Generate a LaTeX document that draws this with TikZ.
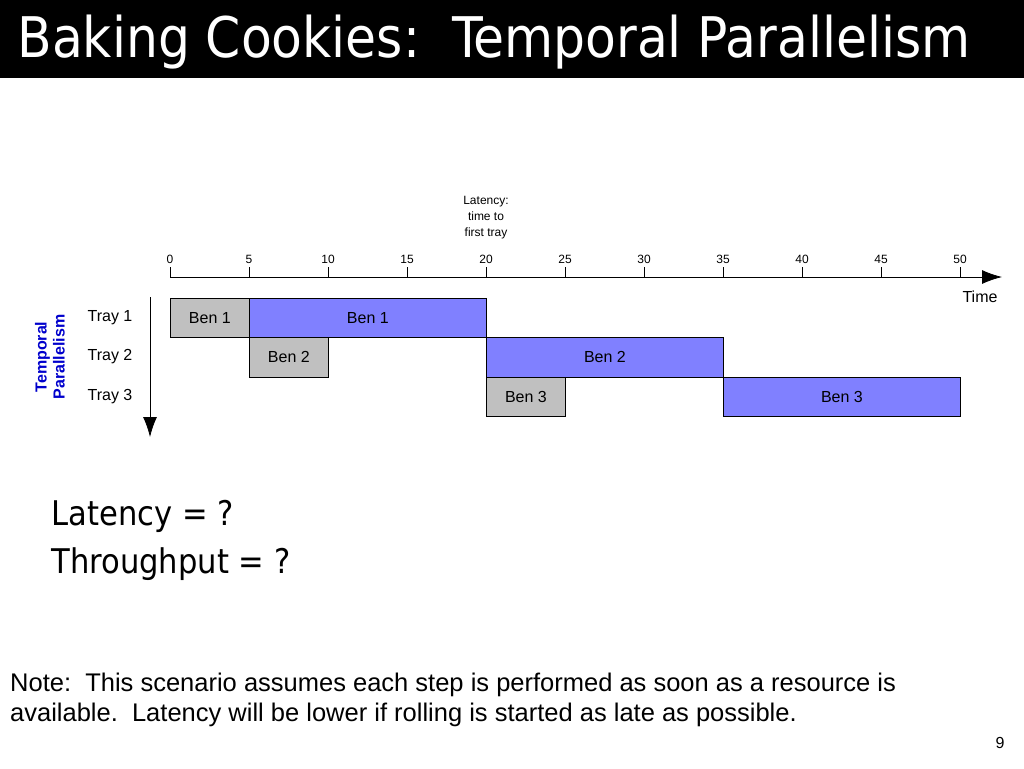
\documentclass[tikz,border=0pt]{standalone}
\usepackage{fontspec}
\setmainfont{Liberation Sans}
\newfontfamily\titlefont{DejaVu Sans Condensed}
\usetikzlibrary{positioning, arrows.meta}
\definecolor{rollgray}{HTML}{C0C0C0}
\definecolor{bakeblue}{HTML}{8080FF}
\tikzset{
  slot/.style = {draw, thick, inner sep = 0pt, minimum height = 39.5pt, anchor = north west, font = \fontsize{16}{18}\selectfont},
  roll/.style = {slot, fill = rollgray},
  bake/.style = {slot, fill = bakeblue},
  tick/.style = {font = \fontsize{12}{14}\selectfont, anchor = south}
}
\begin{document}
\begin{tikzpicture}[x = 1pt, y = -1pt]
	 \useasboundingbox (0, 0) rectangle (1024, 768);
	 \fill[black] (0, 0) rectangle (1024, 78);
	 \node[anchor = west, text = white, font = \titlefont\fontsize{56}{60}\selectfont] (title) at (14, 42) {Baking Cookies:\ \ Temporal Parallelism};

	 % time axis
	 \coordinate (t0) at (170, 277);
	 \coordinate (tend) at (1002, 277);
	 \draw[thick, -{Latex[length = 20pt, width = 14pt]}] (t0) -- (tend);
	 \foreach \t in {0, 5, ..., 50}
	 \draw[thick] (170 + 15.8 * \t, 277) -- (170 + 15.8 * \t, 267) node[tick] (tk\t) {\t};
	 \node[font = \fontsize{16}{18}\selectfont] (time) at (980, 297) {Time};
	 \node[align = center, font = \fontsize{12}{16}\selectfont] (lat) at (486, 218) {Latency:\\time to\\first tray};

	 % trays
	 \coordinate (ytop) at (150, 297);
	 \coordinate (ybot) at (150, 437);
	 \draw[thick, -{Latex[length = 20pt, width = 14pt]}] (ytop) -- (ybot);
	 \foreach \i/\y in {1/318, 2/357, 3/397}
	 \node[font = \fontsize{16}{18}\selectfont] (tray\i) at (110, \y) {Tray \i};
	 \node[rotate = 90, align = center, text = blue!80!black, font = \bfseries\fontsize{16}{18}\selectfont] (tp) at (50, 357) {Temporal\\Parallelism};

	 \node[roll, minimum width = 79pt] (r1) at (170, 297.5) {Ben 1};
	 \node[bake, minimum width = 237pt] (b1) at (249, 297.5) {Ben 1};
	 \node[roll, minimum width = 79pt] (r2) at (249, 337) {Ben 2};
	 \node[bake, minimum width = 237pt] (b2) at (486, 337) {Ben 2};
	 \node[roll, minimum width = 79pt] (r3) at (486, 376.5) {Ben 3};
	 \node[bake, minimum width = 237pt] (b3) at (723, 376.5) {Ben 3};

	 % questions and note
	 \node[anchor = west, font = \titlefont\fontsize{34}{38}\selectfont] (q1) at (48, 516) {Latency = ?};
	 \node[anchor = west, font = \titlefont\fontsize{34}{38}\selectfont] (q2) at (48, 564) {Throughput = ?};
	 \node[anchor = north west, align = left, inner sep = 0pt, font = \fontsize{25.5}{30}\selectfont] (note) at (10, 673) {Note:\ \ This scenario assumes each step is performed as soon as a resource is\\available.\ \ Latency will be lower if rolling is started as late as possible.};
	 \node[font = \fontsize{16}{18}\selectfont] (page) at (1000, 743) {9};
\end{tikzpicture}
\end{document}
